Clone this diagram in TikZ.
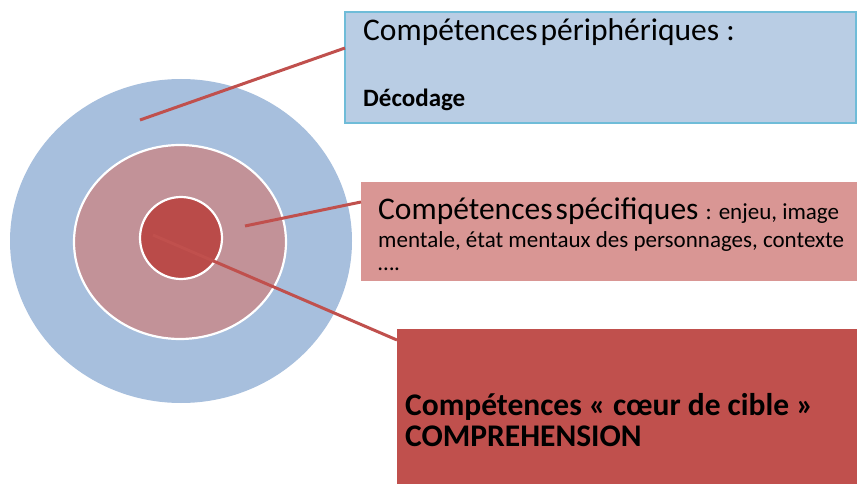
\documentclass[tikz,border=0pt]{standalone}
\usepackage{fontspec}
\setmainfont{Carlito}
\definecolor{ciblebleu}{HTML}{A7BFDD}
\definecolor{ciblerose}{HTML}{C29298}
\definecolor{ciblerouge}{HTML}{BA4B49}
\definecolor{boxbleu}{HTML}{B9CDE4}
\definecolor{boxbord}{HTML}{6FBCD8}
\definecolor{boxrose}{HTML}{D99694}
\definecolor{boxrouge}{HTML}{C0504D}
\begin{document}
\begin{tikzpicture}[x=1pt, y=-1pt,
    boite/.style={anchor=north west, inner sep=0, outer sep=0},
    lien/.style={draw=boxrouge, line width=3pt},
    texte/.style={anchor=base west, inner sep=0}]
                \useasboundingbox (0, 0) rectangle (857, 484);
                \fill [ciblebleu] (181, 241) ellipse [x radius=171, y radius=162];
                \filldraw [fill=ciblerose, draw=white, line width=2.2pt]
                    (180, 242) ellipse [x radius=106, y radius=97];
                \filldraw [fill=ciblerouge, draw=white, line width=2.2pt]
                    (181, 238) circle [radius=41];
                \coordinate (bord) at (140, 120);
                \coordinate (milieu) at (245, 226);
                \coordinate (coeur) at (153, 235);
                \node [boite, fill=boxbleu, draw=boxbord, line width=1.2pt,
                    minimum width=511, minimum height=111] (peri) at (345, 12) {};
                \node [boite, fill=boxrose, minimum width=496, minimum height=99]
                    (spec) at (361, 182) {};
                \node [boite, fill=boxrouge, minimum width=460, minimum height=155]
                    (cible) at (397, 329) {};
                \draw [lien] (bord) -- (peri.north west |- 0, 48);
                \draw [lien] (milieu) -- (spec.north west |- 0, 202);
                \draw [lien] (coeur) -- (cible.north west |- 0, 340);
                \node [texte] (peritxt) at (363, 41)
                    {\fontsize{31.5}{37}\selectfont Compétences\hspace{0.1em}périphériques :};
                \node [texte] (decod) at (363, 107)
                    {\fontsize{25}{30}\selectfont\bfseries Décodage};
                \node [texte] (spectxt) at (378, 219)
                    {\fontsize{31.5}{37}\selectfont Compétences\hspace{0.1em}spécifiques
                    \fontsize{23}{27}\selectfont : enjeu, image};
                \node [texte] (spectxtb) at (378, 247)
                    {\fontsize{23}{27}\selectfont mentale, état mentaux des personnages, contexte};
                \node [texte] (spectxtc) at (378, 270)
                    {\fontsize{23}{27}\selectfont ….};
                \node [texte] (cibletxt) at (405, 415)
                    {\fontsize{31.5}{37}\selectfont\bfseries Compétences « cœur de cible »};
                \node [texte] (cibletxtb) at (405, 446)
                    {\fontsize{31.5}{37}\selectfont\bfseries COMPREHENSION};
\end{tikzpicture}
\end{document}
